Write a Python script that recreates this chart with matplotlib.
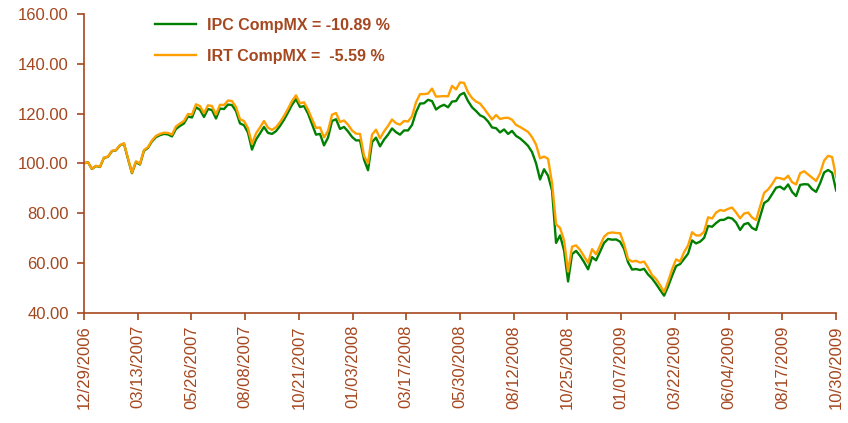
#IPC CompMX vs IRT CompMX 走势图
import numpy as np
import pandas as pd
import matplotlib
matplotlib.use('Agg')
import matplotlib.pyplot as plt
import matplotlib.dates as mdates

plt.rcParams['font.family'] = ['Liberation Sans', 'DejaVu Sans']

# 数据 (从图上读出来的, 等间隔取样)
start_date = '2006-12-29'
end_date = '2009-10-30'

ipc = [100.0, 100.4, 97.7, 98.9, 98.5, 102.2, 102.6, 104.9, 105.2, 107.2,
       107.9, 101.8, 96.0, 100.5, 99.5, 105.0, 106.2, 108.8, 110.5, 111.3,
       111.8, 111.6, 110.8, 113.8, 115.0, 116.0, 118.8, 118.4, 122.5, 121.5,
       118.6, 121.8, 121.4, 118.0, 122.0, 121.8, 123.6, 123.4, 121.0, 116.0,
       115.3, 112.3, 105.5, 109.5, 112.0, 114.6, 112.2, 111.8, 112.9, 115.0,
       117.5, 120.4, 123.5, 125.8, 122.6, 123.0, 120.0, 115.8, 111.5, 111.8,
       107.2, 110.3, 117.0, 117.7, 113.8, 114.6, 112.8, 110.6, 109.2, 109.2,
       101.5, 97.2, 108.5, 110.3, 106.8, 109.5, 111.5, 114.0, 112.5, 111.5,
       113.2, 113.2, 115.4, 120.5, 124.0, 124.1, 125.5, 125.0, 121.6, 122.8,
       123.5, 122.5, 124.8, 125.0, 127.5, 128.3, 125.0, 122.5, 121.0, 119.3,
       118.5, 116.8, 114.4, 114.1, 112.4, 113.6, 111.8, 113.0, 111.0, 110.0,
       108.6, 107.0, 104.5, 100.0, 93.5, 97.6, 95.0, 89.0, 68.0, 71.0,
       65.0, 52.5, 63.5, 64.8, 62.8, 60.3, 57.4, 62.3, 61.0, 64.5,
       68.0, 69.6, 69.3, 69.4, 68.5, 65.6, 60.2, 57.3, 57.5, 57.1,
       57.6, 55.3, 53.7, 51.5, 49.1, 46.8, 50.5, 54.8, 58.7, 59.5,
       61.6, 63.7, 69.0, 67.8, 68.5, 70.0, 74.8, 74.5, 76.0, 77.2,
       77.3, 78.2, 77.8, 76.2, 73.2, 75.5, 76.0, 74.0, 73.2, 78.6,
       84.0, 85.1, 87.6, 90.2, 90.6, 89.5, 91.5, 88.5, 86.8, 91.3,
       91.6, 91.5, 89.6, 88.5, 92.0, 96.3, 97.3, 96.2, 89.1]

irt = [100.0, 100.4, 97.8, 99.0, 98.6, 102.3, 102.7, 105.0, 105.3, 107.3,
       108.0, 102.0, 96.2, 100.8, 99.8, 105.3, 106.5, 109.2, 111.0, 111.8,
       112.3, 112.2, 111.5, 114.8, 116.0, 117.0, 119.8, 119.6, 123.7, 123.0,
       120.1, 123.3, 123.0, 119.6, 123.5, 123.4, 125.2, 125.0, 122.6, 117.7,
       117.0, 114.1, 107.8, 112.0, 114.4, 117.0, 114.3, 113.4, 114.5, 116.5,
       119.0, 121.9, 125.0, 127.3, 124.1, 124.5, 121.6, 117.8, 114.2, 114.4,
       110.4, 113.0, 119.5, 120.2, 116.6, 117.2, 115.5, 113.2, 111.9, 111.8,
       103.0, 100.0, 111.5, 113.5, 110.0, 112.8, 115.0, 117.6, 116.1, 115.5,
       117.0, 116.8, 118.9, 124.5, 127.8, 127.8, 128.0, 130.0, 126.8, 126.9,
       127.0, 126.9, 131.1, 129.7, 132.5, 132.3, 128.5, 126.2, 124.8, 124.0,
       122.0, 119.8, 117.6, 119.4, 117.8, 118.2, 118.3, 117.5, 115.4, 114.6,
       113.6, 112.6, 110.5, 107.5, 102.0, 102.7, 101.8, 92.0, 75.5, 74.0,
       69.0, 56.5, 66.5, 67.0, 65.2, 62.6, 60.0, 65.5, 63.4, 67.0,
       70.5, 71.9, 72.2, 72.0, 71.9, 67.5, 61.5, 60.5, 60.8, 60.1,
       60.5, 58.0, 55.0, 53.5, 51.0, 48.2, 52.5, 57.4, 61.4, 60.5,
       64.3, 67.0, 72.3, 71.0, 71.0, 72.5, 78.3, 77.8, 80.2, 81.2,
       80.9, 81.7, 82.2, 80.2, 77.9, 79.8, 80.2, 78.2, 77.2, 82.6,
       88.1, 89.5, 91.6, 94.2, 94.0, 93.5, 95.0, 92.4, 91.5, 96.0,
       96.8, 95.5, 94.2, 92.9, 96.0, 101.1, 103.0, 102.5, 94.4]

labels = ['IPC CompMX = -10.89 %', 'IRT CompMX =  -5.59 %']
yticks = [40, 60, 80, 100, 120, 140, 160]

dates = pd.date_range(start_date, end_date, periods=len(ipc))
tick_dates = pd.date_range(start_date, end_date, freq='74D')

brown = '#A5471F'

fig = plt.figure(figsize=(8.48, 4.23), dpi=100)
ax = fig.add_axes([0.099, 0.261, 0.887, 0.706])

ax.plot(dates, ipc, color='#008000', lw=1.7, label=labels[0])
ax.plot(dates, irt, color='#FFA000', lw=1.7, label=labels[1])

ax.set_xlim(dates[0], dates[-1])
ax.set_ylim(40, 160)
ax.set_yticks(yticks)
ax.yaxis.set_major_formatter(plt.FormatStrFormatter('%.2f'))
ax.set_xticks(tick_dates)
ax.xaxis.set_major_formatter(mdates.DateFormatter('%m/%d/%Y'))

# 坐标轴样式
for s in ['top', 'right']:
    ax.spines[s].set_visible(False)
for s in ['left', 'bottom']:
    ax.spines[s].set_color(brown)
    ax.spines[s].set_linewidth(1.2)
ax.tick_params(axis='both', colors=brown, labelcolor=brown, labelsize=12,
               direction='out', length=5, width=1.2)
ax.tick_params(axis='x', labelrotation=90, pad=4)
ax.tick_params(axis='y', pad=6)

# 图例
leg = ax.legend(loc='upper left', bbox_to_anchor=(0.075, 1.035), frameon=False,
                handlelength=2.6, handletextpad=0.7, labelspacing=1.0,
                prop={'size': 11.5, 'weight': 'bold'})
for t in leg.get_texts():
    t.set_color(brown)

fig.savefig('out.png', dpi=100)
